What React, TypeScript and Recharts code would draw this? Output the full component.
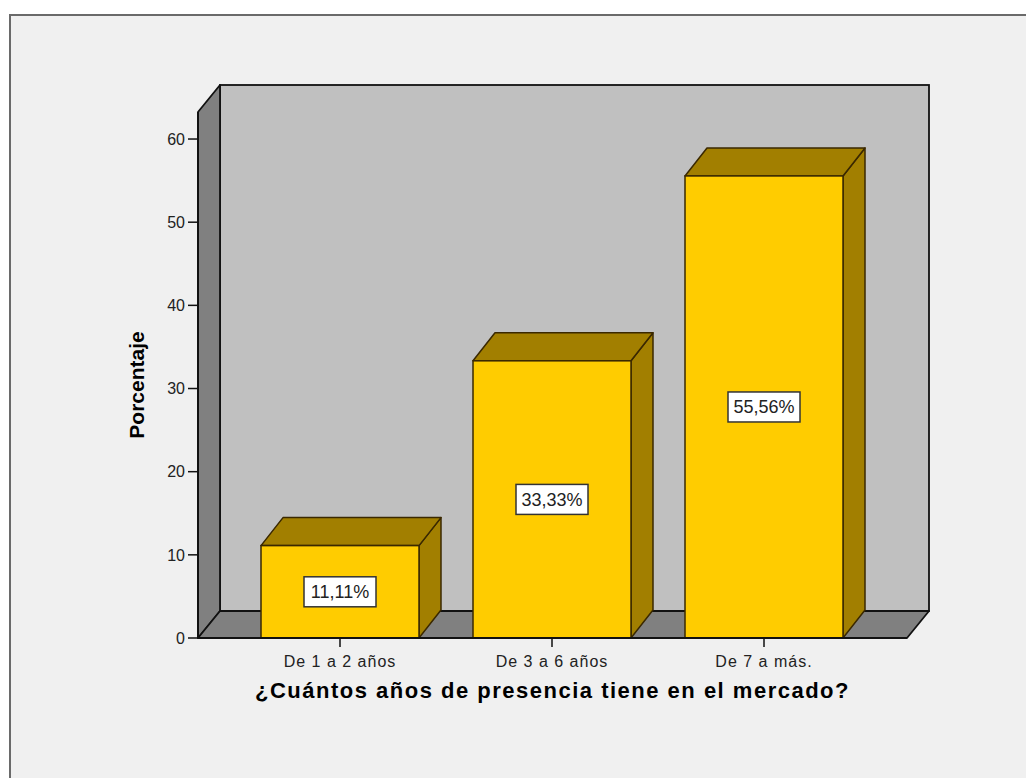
import React from "react";
import { BarChart, Bar, XAxis, YAxis, LabelList } from "recharts";

const categories = ["De 1 a 2 años", "De 3 a 6 años", "De 7 a más."];
const percentages = [11.11, 33.33, 55.56];
const percentLabels = ["11,11%", "33,33%", "55,56%"];
const yTicks = [0, 10, 20, 30, 40, 50, 60];

const W = 1026;
const H = 778;
const FONT = '"Liberation Sans", Arial, sans-serif';

// plot area (front face) and 3D depth
const PLOT_LEFT = 198;
const PLOT_RIGHT = 907;
const PLOT_TOP = 112;
const PLOT_BOTTOM = 638;
const DX = 22;
const DY = -27;
const Y_AXIS_W = 70;
const X_AXIS_H = 40;

const data = categories.map((name, i) => ({
  name,
  value: percentages[i],
  label: percentLabels[i],
}));

function Bar3D(props: any) {
  const { x, y, width, height } = props;
  const dx = DX;
  const dy = -28;
  const stroke = "#3a2800";
  const top = `${x},${y} ${x + dx},${y + dy} ${x + width + dx},${y + dy} ${x + width},${y}`;
  const side = `${x + width},${y} ${x + width + dx},${y + dy} ${x + width + dx},${y + height + dy} ${x + width},${y + height}`;
  return (
    <g>
      <polygon points={side} fill="#a27f00" stroke={stroke} strokeWidth={1.5} strokeLinejoin="round" />
      <polygon points={top} fill="#a27f00" stroke={stroke} strokeWidth={1.5} strokeLinejoin="round" />
      <rect x={x} y={y} width={width} height={height} fill="#ffcc00" stroke={stroke} strokeWidth={1.5} />
    </g>
  );
}

function ValueBox(props: any) {
  const { x, y, width, height, value } = props;
  const cx = x + width / 2;
  const cy = y + height / 2;
  const bw = 72;
  const bh = 30;
  return (
    <g>
      <rect x={cx - bw / 2} y={cy - bh / 2} width={bw} height={bh} fill="#ffffff" stroke="#333" strokeWidth={1.5} />
      <text x={cx} y={cy + 6.5} textAnchor="middle" fontFamily={FONT} fontSize={18} fill="#222">
        {value}
      </text>
    </g>
  );
}

function Walls() {
  const stroke = "#111";
  const leftWall = `${PLOT_LEFT},${PLOT_TOP} ${PLOT_LEFT + DX},${PLOT_TOP + DY} ${PLOT_LEFT + DX},${PLOT_BOTTOM + DY} ${PLOT_LEFT},${PLOT_BOTTOM}`;
  const floor = `${PLOT_LEFT},${PLOT_BOTTOM} ${PLOT_LEFT + DX},${PLOT_BOTTOM + DY} ${PLOT_RIGHT + DX},${PLOT_BOTTOM + DY} ${PLOT_RIGHT},${PLOT_BOTTOM}`;
  return (
    <svg width={W} height={H} style={{ position: "absolute", left: 0, top: 0 }}>
      <rect
        x={PLOT_LEFT + DX}
        y={PLOT_TOP + DY}
        width={PLOT_RIGHT - PLOT_LEFT}
        height={PLOT_BOTTOM - PLOT_TOP}
        fill="#c0c0c0"
        stroke={stroke}
        strokeWidth={1.8}
      />
      <polygon points={leftWall} fill="#808080" stroke={stroke} strokeWidth={1.8} strokeLinejoin="round" />
      <polygon points={floor} fill="#808080" stroke={stroke} strokeWidth={1.8} strokeLinejoin="round" />
    </svg>
  );
}

export default function App() {
  return (
    <div style={{ position: "absolute", left: 0, top: 0, width: W, height: H, overflow: "hidden", background: "#fff" }}>
      <div
        style={{
          position: "absolute",
          left: 9,
          top: 14,
          width: W,
          height: H,
          background: "#f0f0f0",
          borderTop: "2px solid #6a6a6a",
          borderLeft: "2px solid #6a6a6a",
        }}
      />
      <Walls />
      <div style={{ position: "absolute", left: 0, top: 0 }}>
        <BarChart
          width={W}
          height={H}
          data={data}
          margin={{
            top: PLOT_TOP,
            right: W - PLOT_RIGHT,
            bottom: H - PLOT_BOTTOM - X_AXIS_H,
            left: PLOT_LEFT - Y_AXIS_W,
          }}
        >
          <XAxis
            dataKey="name"
            height={X_AXIS_H}
            padding={{ left: 36, right: 37 }}
            axisLine={{ stroke: "#111", strokeWidth: 1.8 }}
            tickLine={{ stroke: "#111", strokeWidth: 1.5 }}
            tickSize={9}
            tickMargin={9}
            tick={{ fill: "#222", fontSize: 16, fontFamily: FONT, letterSpacing: 1 }}
            label={{
              content: (p: any) => {
                const vb = p.viewBox;
                return (
                  <text
                    x={vb.x + vb.width / 2}
                    y={PLOT_BOTTOM + 60}
                    textAnchor="middle"
                    fontFamily={FONT}
                    fontWeight="bold"
                    fontSize={22}
                    letterSpacing={1.5}
                    fill="#000"
                  >
                    ¿Cuántos años de presencia tiene en el mercado?
                  </text>
                );
              },
            }}
          />
          <YAxis
            width={Y_AXIS_W}
            domain={[0, 63.25]}
            ticks={yTicks}
            allowDataOverflow
            axisLine={{ stroke: "#111", strokeWidth: 1.8 }}
            tickLine={{ stroke: "#111", strokeWidth: 1.5 }}
            tickSize={10}
            tickMargin={3}
            tick={{ fill: "#222", fontSize: 16, fontFamily: FONT }}
            label={{
              content: () => {
                const lx = 136;
                const ly = 385;
                return (
                  <text
                    x={lx}
                    y={ly}
                    transform={`rotate(-90 ${lx} ${ly})`}
                    textAnchor="middle"
                    dominantBaseline="central"
                    fontFamily={FONT}
                    fontWeight="bold"
                    fontSize={21}
                    fill="#000"
                  >
                    Porcentaje
                  </text>
                );
              },
            }}
          />
          <Bar dataKey="value" barSize={158} shape={Bar3D} isAnimationActive={false}>
            <LabelList dataKey="label" content={ValueBox} />
          </Bar>
        </BarChart>
      </div>
    </div>
  );
}
